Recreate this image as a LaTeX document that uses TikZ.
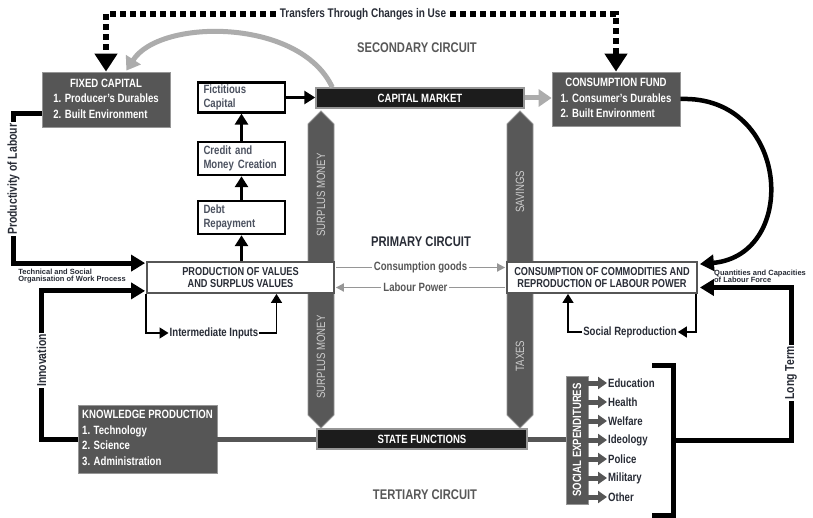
\documentclass[tikz,border=0pt]{standalone}
\usepackage{graphicx}
\usepackage{fontspec}
\setmainfont{Liberation Sans}[FakeStretch=0.8]
\newfontfamily\tinyfont{Liberation Sans}
\usetikzlibrary{arrows.meta,calc}
\definecolor{boxgray}{RGB}{86,86,86}
\definecolor{bargray}{RGB}{88,88,88}
\definecolor{inkdark}{RGB}{40,44,54}
\definecolor{softgray}{RGB}{172,172,172}
\definecolor{midgray}{RGB}{150,150,150}
\definecolor{labgray}{RGB}{88,88,88}
\definecolor{fictgray}{RGB}{76,82,96}
\definecolor{barink}{RGB}{205,205,205}
\definecolor{marketblack}{RGB}{28,28,28}
\begin{document}
\begin{tikzpicture}[x=1pt,y=-1pt,
  every node/.style={font=\fontsize{12}{15}\selectfont\bfseries,text=inkdark,inner sep=2pt},
  darkbox/.style={draw=midgray,line width=0.8pt,fill=boxgray,text=white,inner sep=3pt,font=\fontsize{12}{15.5}\selectfont\bfseries},
  whitebox/.style={draw=black,line width=2.5pt,fill=white,text=fictgray,minimum width=87pt,text width=76pt,align=left,font=\fontsize{12}{14.5}\selectfont\bfseries},
  mainbox/.style={draw=boxgray,line width=1.8pt,fill=white,minimum height=31pt,align=center,font=\fontsize{11.5}{12}\selectfont\bfseries},
  barbox/.style={draw=midgray,line width=1.5pt,fill=marketblack,text=white,minimum height=20pt},
  barlabel/.style={rotate=90,text=barink,font=\fontsize{12}{12}\selectfont},
  barshape/.style={fill=bargray,draw=midgray,line width=0.8pt},
  bigarrow/.style={line width=4.5pt,-{Triangle[length=14pt,width=16pt]}},
  midarrow/.style={line width=3pt,-{Triangle[length=11pt,width=13pt]}},
  thinarrow/.style={line width=1.3pt,-{Triangle[length=9pt,width=11pt]}},
  grayflow/.style={draw=midgray,line width=1.8pt,-{Triangle[length=8pt,width=8pt]}},
  grayarrow/.style={draw=softgray,line width=5pt,-{Triangle[length=13pt,width=17pt]}},
  dotline/.style={line width=6pt,dash pattern=on 6pt off 4pt,-{Triangle[length=18pt,width=22pt]}},
  sidelabel/.style={rotate=90,fill=white,inner sep=1.5pt,font=\fontsize{13}{13}\selectfont\bfseries},
  tinylabel/.style={align=left,inner sep=0pt,font=\tinyfont\fontsize{7.5}{7}\selectfont\bfseries},
  circuit/.style={font=\fontsize{14}{14}\selectfont\bfseries},
  sarrow/.style={draw=boxgray,line width=5pt,-{Triangle[length=9pt,width=12pt]}}]

  \useasboundingbox (0,0) rectangle (813,518);
  \fill[white] (0,0) rectangle (813,518);

  \filldraw[barshape] (308,124) -- (321,111) -- (334,124) -- (334,415) -- (321,428) -- (308,415) -- cycle;
  \filldraw[barshape] (507,124) -- (520,111) -- (533,124) -- (533,415) -- (520,428) -- (507,415) -- cycle;
  \node[barlabel] (surplusup) at (321,195) {SURPLUS MONEY};
  \node[barlabel] (surplusdown) at (321,357) {SURPLUS MONEY};
  \node[barlabel] (savings) at (520,192) {SAVINGS};
  \node[barlabel] (taxes) at (520,356) {TAXES};

  \node[darkbox,minimum width=128pt,minimum height=55pt] (fixcap) at (106,99.5)
    {\begin{tabular}{@{}l@{}}\multicolumn{1}{@{}c@{}}{FIXED CAPITAL}\\1. Producer's Durables\\2. Built Environment\end{tabular}};
  \node[darkbox,minimum width=128pt,minimum height=54pt] (consfund) at (616,99)
    {\begin{tabular}{@{}l@{}}\multicolumn{1}{@{}c@{}}{CONSUMPTION FUND}\\1. Consumer's Durables\\2. Built Environment\end{tabular}};
  \node[darkbox,minimum width=139pt,minimum height=68pt] (know) at (147.5,439)
    {\begin{tabular}{@{}l@{}}KNOWLEDGE PRODUCTION\\1. Technology\\2. Science\\3. Administration\end{tabular}};
  \node[darkbox,minimum width=22pt,minimum height=128pt,inner sep=0pt] (socexp) at (577,440)
    {\rotatebox{90}{SOCIAL EXPENDITURES}};

  \node[barbox,minimum width=208pt] (capmkt) at (420,98) {CAPITAL MARKET};
  \node[barbox,minimum width=210pt] (state) at (422,439) {STATE FUNCTIONS};

  \node[whitebox,minimum height=29pt] (fict) at (241.5,97.5) {Fictitious\\Capital};
  \node[whitebox,minimum height=33pt] (credit) at (241.5,158.5) {Credit and\\Money Creation};
  \node[whitebox,minimum height=33pt] (debt) at (241.5,217.5) {Debt\\Repayment};

  \node[mainbox,minimum width=187pt] (prod) at (240.5,277.5) {PRODUCTION OF VALUES\\AND SURPLUS VALUES};
  \node[mainbox,minimum width=190pt] (consum) at (602,277.5) {CONSUMPTION OF COMMODITIES AND\\REPRODUCTION OF LABOUR POWER};

  \node[fill=white,inner sep=4pt,font=\fontsize{12.5}{13}\selectfont\bfseries] (transfers) at (363,14) {Transfers Through Changes in Use};
  \node[circuit,text=labgray] (secondary) at (417,48) {SECONDARY CIRCUIT};
  \node[circuit] (primary) at (421,242) {PRIMARY CIRCUIT};
  \node[circuit,text=labgray] (tertiary) at (425,495) {TERTIARY CIRCUIT};

  \node[tinylabel] (techlab) at (72,276) {Technical and Social\\Organisation of Work Process};
  \node[tinylabel] (quantlab) at (760,276) {Quantities and Capacities\\of Labour Force};
  \node[inner sep=1pt] (inter) at (214,333) {Intermediate Inputs};
  \node[inner sep=1pt] (socrep) at (630,332) {Social Reproduction};

  \draw[dotline] (transfers.west) -| (fixcap.north);
  \draw[dotline] (transfers.east) -| (consfund.north);

  \draw[grayarrow] ($(capmkt.north west)+(17,0)$) .. controls (300,18) and (160,18) .. ($(fixcap.north east)+(-44,-1)$);
  \draw[grayarrow] (capmkt.east) -- (capmkt.east -| consfund.west);
  \draw[bigarrow] (consfund.east) .. controls (790,95) and (800,255) .. ($(consum.north east)+(2,3)$);

  \draw[midarrow] (fict.east) -- (fict.east -| capmkt.west);
  \draw[midarrow] (credit) -- (fict);
  \draw[midarrow] (debt) -- (credit);
  \draw[midarrow] (prod.north -| debt) -- (debt.south);

  \draw[grayflow] ($(prod.east)+(1,-10)$) -- node[fill=white,text=labgray] (goods) {Consumption goods} ($(consum.west)+(-1,-10)$);
  \draw[grayflow] ($(consum.west)+(-1,10)$) -- node[pos=0.53,fill=white,text=labgray] (labour) {Labour Power} ($(prod.east)+(1,10)$);

  \draw[thinarrow] (prod.south west) |- (inter.west);
  \draw[thinarrow] (inter.east) -| ($(prod.south)+(36,0)$);
  \draw[thinarrow] ($(consum.south east)+(-2,0)$) |- (socrep.east);
  \draw[thinarrow] (socrep.west) -| ($(consum.south)+(-34,0)$);

  \draw[bigarrow,line width=5pt] ($(fixcap.south west)+(0,-14)$) -- ++(-28,0)
    |- node[pos=0.22,sidelabel] (prodlab) {Productivity of Labour} ($(prod.north west)+(-1,2)$);
  \draw[bigarrow,line width=5pt] (know.west) -- ++(-36,0)
    |- node[pos=0.265,sidelabel] (innolab) {Innovation} ($(prod.south west)+(-1,-3)$);

  \draw[line width=5pt,draw=boxgray] (know.east) -- (know.east -| state.west);
  \draw[line width=5pt,draw=boxgray] (state.east) -- (state.east -| socexp.west);

  \foreach \name/\lbl/\yy in {edu/Education/383,hea/Health/402,wel/Welfare/421,ide/Ideology/440,pol/Police/459,mil/Military/478,oth/Other/497}{
    \node[anchor=west,inner sep=1pt] (\name) at (607,\yy) {\lbl};
    \draw[sarrow] (socexp.east |- \name.west) -- (\name.west);
  }

  \coordinate (brk) at (673,440);
  \draw[line width=5pt] (652,365) -- (673,365) -- (673,515) -- (652,515);
  \draw[bigarrow,line width=5pt] (brk) -- ++(118,0)
    |- node[pos=0.22,sidelabel] (longlab) {Long Term} ($(consum.east)+(2,10)$);
\end{tikzpicture}
\end{document}
